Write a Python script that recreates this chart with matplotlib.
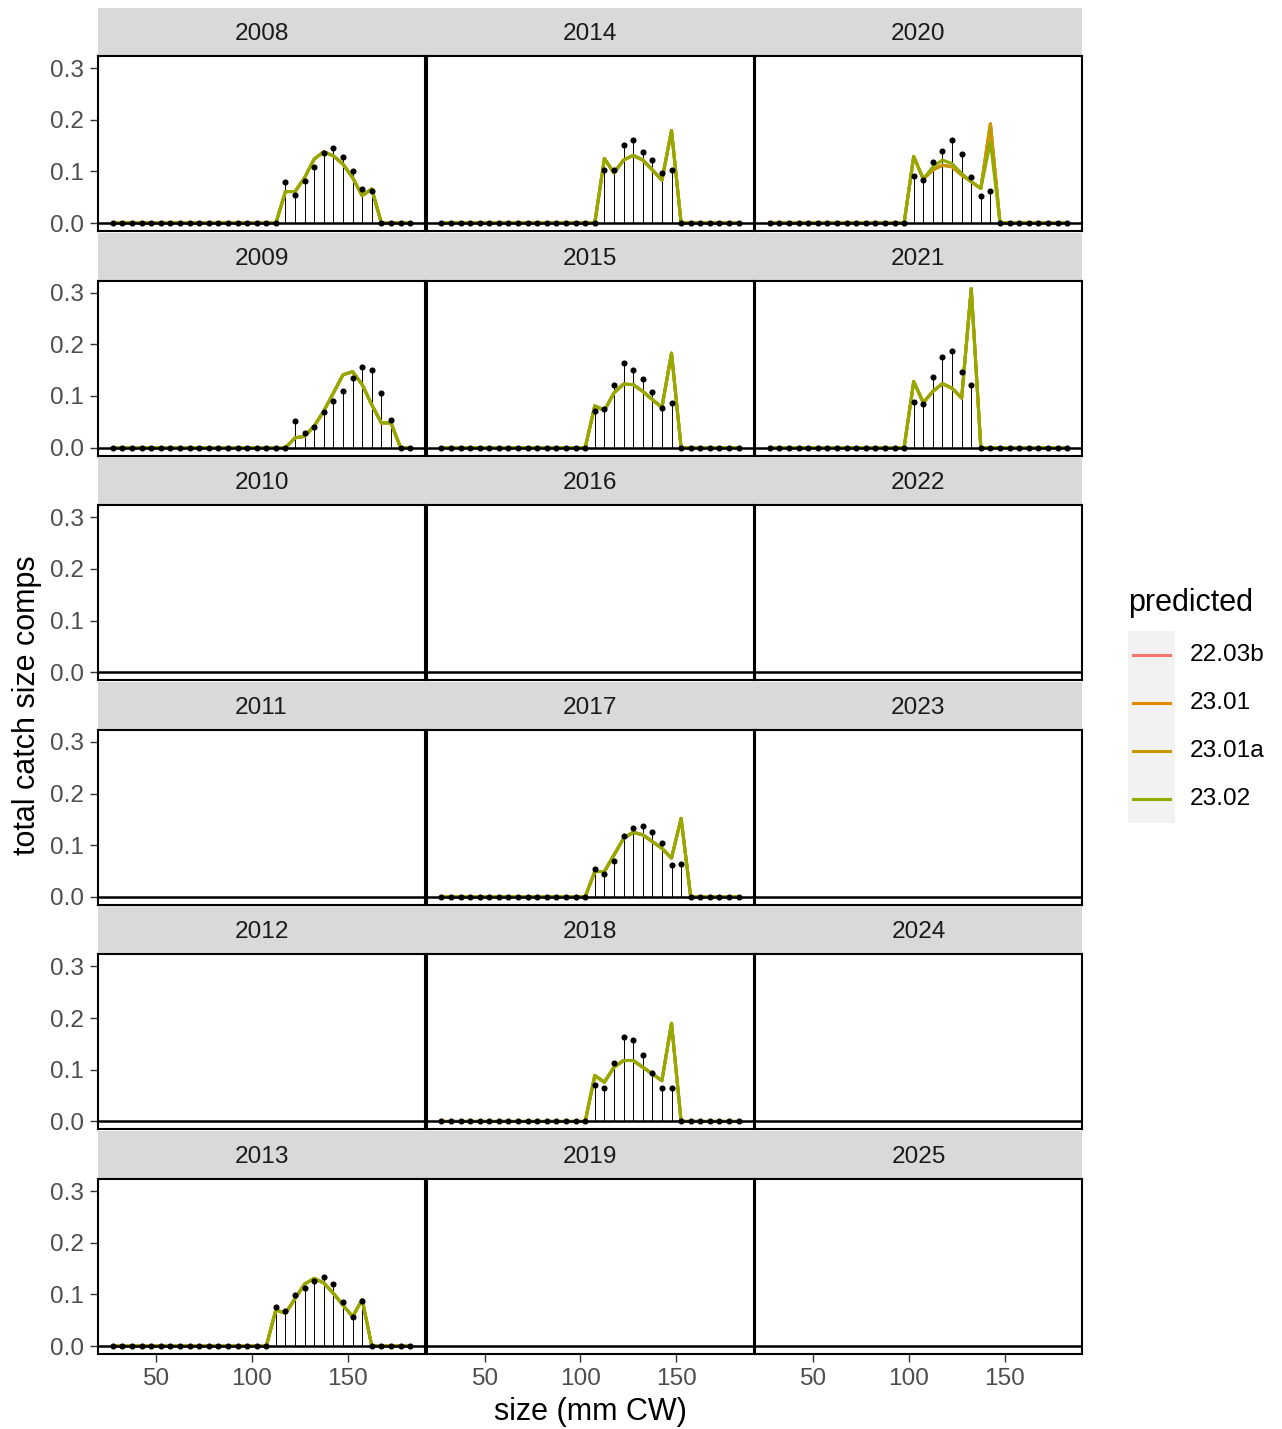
import numpy as np
import matplotlib.pyplot as plt

plt.rcParams['font.family'] = ['Liberation Sans', 'DejaVu Sans']

# size bins (mm CW) and panel years
size_bins = np.arange(27.5, 185, 5)
years = list(range(2008, 2026))
models = ['22.03b', '23.01', '23.01a', '23.02']
model_colors = ['#F8766D', '#E38900', '#C49A00', '#93AA00']

# observed / predicted comps: first non-zero bin then the values
start_2008 = 117.5
obs_2008 = [0.079, 0.054, 0.081, 0.109, 0.135, 0.145, 0.127, 0.100, 0.066, 0.062]
pred_2008 = [0.061, 0.061, 0.088, 0.124, 0.138, 0.130, 0.114, 0.088, 0.053, 0.066]

start_2009 = 122.5
obs_2009 = [0.051, 0.028, 0.040, 0.069, 0.090, 0.110, 0.135, 0.156, 0.151, 0.105, 0.053]
pred_2009 = [0.019, 0.022, 0.042, 0.071, 0.106, 0.141, 0.147, 0.122, 0.083, 0.048, 0.048]

start_2013 = 112.5
obs_2013 = [0.076, 0.067, 0.099, 0.113, 0.125, 0.133, 0.121, 0.086, 0.057, 0.088]
pred_2013 = [0.070, 0.063, 0.092, 0.120, 0.131, 0.122, 0.102, 0.079, 0.057, 0.090]

start_2014 = 112.5
obs_2014 = [0.103, 0.103, 0.152, 0.160, 0.137, 0.122, 0.096, 0.103]
pred_2014 = [0.125, 0.097, 0.122, 0.131, 0.122, 0.103, 0.083, 0.179]

start_2015 = 107.5
obs_2015 = [0.071, 0.075, 0.121, 0.163, 0.151, 0.133, 0.107, 0.076, 0.087]
pred_2015 = [0.081, 0.072, 0.106, 0.123, 0.122, 0.109, 0.093, 0.078, 0.183]

start_2017 = 107.5
obs_2017 = [0.054, 0.044, 0.070, 0.118, 0.133, 0.137, 0.125, 0.105, 0.061, 0.063]
pred_2017 = [0.049, 0.049, 0.081, 0.113, 0.125, 0.120, 0.107, 0.094, 0.075, 0.152]

start_2018 = 107.5
obs_2018 = [0.070, 0.065, 0.113, 0.164, 0.158, 0.129, 0.094, 0.065, 0.065]
pred_2018 = [0.089, 0.076, 0.105, 0.118, 0.118, 0.105, 0.092, 0.079, 0.190]

start_2020 = 102.5
obs_2020 = [0.091, 0.083, 0.119, 0.139, 0.160, 0.133, 0.090, 0.053, 0.062]
pred_2020 = [0.129, 0.085, 0.109, 0.122, 0.115, 0.096, 0.080, 0.067, 0.157]
pred_2020_old = [0.129, 0.085, 0.103, 0.112, 0.109, 0.093, 0.080, 0.067, 0.192]

start_2021 = 102.5
obs_2021 = [0.088, 0.085, 0.136, 0.175, 0.188, 0.147, 0.122]
pred_2021 = [0.128, 0.087, 0.109, 0.124, 0.115, 0.096, 0.308]

comps = {
    2008: (start_2008, obs_2008, pred_2008, pred_2008),
    2009: (start_2009, obs_2009, pred_2009, pred_2009),
    2013: (start_2013, obs_2013, pred_2013, pred_2013),
    2014: (start_2014, obs_2014, pred_2014, pred_2014),
    2015: (start_2015, obs_2015, pred_2015, pred_2015),
    2017: (start_2017, obs_2017, pred_2017, pred_2017),
    2018: (start_2018, obs_2018, pred_2018, pred_2018),
    2020: (start_2020, obs_2020, pred_2020_old, pred_2020),
    2021: (start_2021, obs_2021, pred_2021, pred_2021),
}


def pad(start, vals):
    arr = np.zeros(len(size_bins))
    i = int(np.argmin(np.abs(size_bins - start)))
    arr[i:i + len(vals)] = vals
    return arr


W, H = 1282, 1429
fig = plt.figure(figsize=(W / 200, H / 200), dpi=200)


def px_rect(x, y, w, h):
    return [x / W, 1 - (y + h) / H, w / W, h / H]


col_left = [98, 426.5, 755]
panel_w = 327
ymax = 0.308
ylim = (-0.05 * ymax, 1.05 * ymax)
xlim = (size_bins[0] - 0.05 * (size_bins[-1] - size_bins[0]),
        size_bins[-1] + 0.05 * (size_bins[-1] - size_bins[0]))

for k, yr in enumerate(years):
    col, row = k // 6, k % 6
    top = 8 + 224.6 * row
    # strip (first two columns a bit wider so neighbouring strips join up)
    sw = panel_w + 2 if col < 2 else panel_w
    sax = fig.add_axes(px_rect(col_left[col], top, sw, 48))
    sax.set_facecolor('#D9D9D9')
    for s in sax.spines.values():
        s.set_visible(False)
    sax.set_xticks([]); sax.set_yticks([])
    sax.text(panel_w / 2 / sw, 0.46, str(yr), ha='center', va='center', fontsize=8.8,
             color='#1A1A1A', transform=sax.transAxes)

    ax = fig.add_axes(px_rect(col_left[col], top + 48, panel_w, 175))
    if yr in comps:
        start, obs, pred_old, pred_new = comps[yr]
        o = pad(start, obs)
        preds = [pad(start, pred_old)] * 3 + [pad(start, pred_new)]
        ax.vlines(size_bins, 0, o, color='black', lw=0.35, zorder=2)
        for p, c in zip(preds, model_colors):
            ax.plot(size_bins, p, color=c, lw=1.1, zorder=3)
        ax.plot(size_bins, o, 'o', color='black', ms=2.2, mew=0, zorder=4)
    ax.axhline(0, color='black', lw=0.9, zorder=5)
    ax.set_xlim(xlim)
    ax.set_ylim(ylim)
    ax.set_xticks([50, 100, 150])
    ax.set_yticks([0, 0.1, 0.2, 0.3])
    ax.set_yticklabels(['0.0', '0.1', '0.2', '0.3'])
    ax.tick_params(length=2.75, width=0.5, color='#333333', labelcolor='#4D4D4D',
                   labelsize=8.8, pad=2.2)
    if col != 0:
        ax.tick_params(axis='y', left=False, labelleft=False)
    if row != 5:
        ax.tick_params(axis='x', bottom=False, labelbottom=False)
    for s in ax.spines.values():
        s.set_color('black')
        s.set_linewidth(0.75)

fig.text(590 / W, 1 - 1412 / H, 'size (mm CW)', ha='center', va='center', fontsize=11)
fig.text(27 / W, 1 - 705 / H, 'total catch size comps', ha='center', va='center',
         rotation=90, fontsize=11)

# legend
fig.text(1128 / W, 1 - 603 / H, 'predicted', ha='left', va='center', fontsize=11)
lax = fig.add_axes(px_rect(1128, 631, 47, 192))
lax.set_xlim(0, 1); lax.set_ylim(0, 4)
lax.set_facecolor('#F2F2F2')
for s in lax.spines.values():
    s.set_visible(False)
lax.set_xticks([]); lax.set_yticks([])
for i, (m, c) in enumerate(zip(models, model_colors)):
    yy = 3.5 - i
    lax.plot([0.1, 0.9], [yy, yy], color=c, lw=1.1)
    fig.text(1190 / W, 1 - (655 + 48 * i) / H, m, ha='left', va='center', fontsize=8.8)

fig.savefig('out.png', dpi=200)
